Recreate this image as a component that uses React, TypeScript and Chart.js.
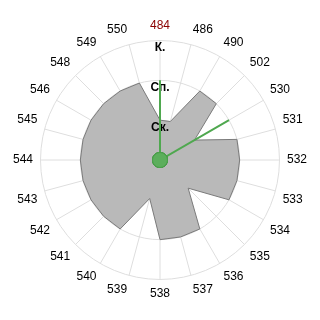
import React, { useEffect, useRef } from "react";
import { Chart, registerables } from "chart.js";

Chart.register(...registerables);

// Spoke labels, clockwise from the top
const codes = [
  "484", "486", "490", "502", "530", "531", "532", "533", "534", "535", "536", "537",
  "538", "539", "540", "541", "542", "543", "544", "545", "546", "548", "549", "550",
];

// Ring names for levels 0..3
const levelNames = ["", "Ск.", "Сп.", "К."];

// Gray area: level per spoke
const areaLevels = [1, 1, 2, 2, 1, 2, 2, 2, 2, 1, 2, 2, 2, 1, 2, 2, 2, 2, 2, 2, 2, 2, 2, 2];

// Green rays: level per spoke
const rayLevels = [2, 0, 0, 0, 2, 0, 0, 0, 0, 0, 0, 0, 0, 0, 0, 0, 0, 0, 0, 0, 0, 0, 0, 0];

const FONT = "'Liberation Sans', Arial, Helvetica, sans-serif";

// Draws the rays after the grid so the grid shows over the gray area but not over the rays
const raysOnTop = {
  id: "raysOnTop",
  beforeDatasetDraw(chart: any, args: any) {
    if (args.index === 1) return false;
  },
  afterDraw(chart: any) {
    const meta = chart.getDatasetMeta(1);
    if (meta && meta.controller) meta.controller.draw();
  },
};

export default function App() {
  const ref = useRef<HTMLCanvasElement | null>(null);

  useEffect(() => {
    if (!ref.current) return;
    const chart = new Chart(ref.current, {
      type: "radar",
      data: {
        labels: codes,
        datasets: [
          {
            data: areaLevels,
            fill: "origin",
            backgroundColor: "#b9b9b9",
            borderColor: "#7a7a7a",
            borderWidth: 1,
            pointRadius: 0,
            tension: 0,
          },
          {
            data: rayLevels,
            fill: false,
            borderColor: "#4fa84f",
            borderWidth: 2,
            pointRadius: (ctx: any) => (ctx.raw === 0 ? 7.5 : 0),
            pointBackgroundColor: "#5cae5c",
            pointBorderColor: "#4a9f4a",
            pointBorderWidth: 1,
            tension: 0,
          },
        ],
      },
      options: {
        animation: false,
        responsive: true,
        maintainAspectRatio: false,
        layout: { padding: { left: 5, right: 5, top: 0, bottom: 0 } },
        plugins: { legend: { display: false }, tooltip: { enabled: false } },
        scales: {
          r: {
            min: 0,
            max: 3,
            startAngle: 0,
            grid: { circular: true, color: "#dedede", lineWidth: 1 },
            angleLines: { color: "#dedede", lineWidth: 1 },
            ticks: {
              z: 1,
              stepSize: 1,
              showLabelBackdrop: false,
              backdropPadding: 0,
              color: "#000",
              font: { family: FONT, size: 12, weight: "bold", lineHeight: 0.6 },
              callback: (v: any) => ["", levelNames[v] ?? ""],
            },
            pointLabels: {
              padding: 1.5,
              color: (ctx: any) => (ctx.index === 0 ? "#8b0000" : "#000"),
              font: { family: FONT, size: 12 },
            },
          },
        },
      },
      plugins: [raysOnTop],
    });
    return () => chart.destroy();
  }, []);

  return (
    <div style={{ position: "relative", width: 304, height: 304 }}>
      <canvas ref={ref} />
    </div>
  );
}
